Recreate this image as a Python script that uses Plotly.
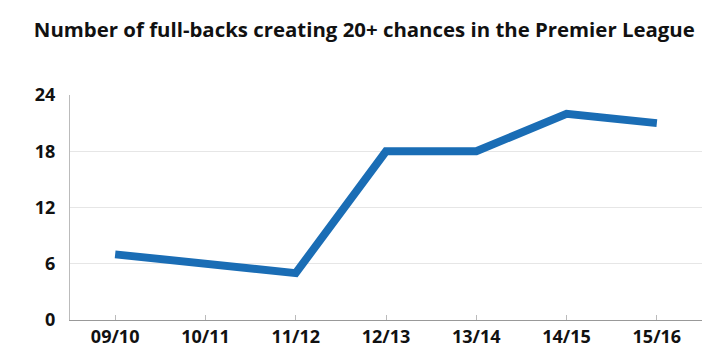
import plotly.graph_objects as go

seasons = ["09/10", "10/11", "11/12", "12/13", "13/14", "14/15", "15/16"]
fullbacks = [7, 6, 5, 18, 18, 22, 21]
y_ticks = [0, 6, 12, 18, 24]

fig = go.Figure()
fig.add_trace(go.Scatter(
    x=list(range(len(seasons))), y=fullbacks, mode="lines",
    line=dict(color="#1a6db5", width=8), hoverinfo="skip"
))

fig.update_layout(
    width=720, height=353,
    margin=dict(l=70, r=18, t=95, b=33),
    paper_bgcolor="white", plot_bgcolor="white",
    showlegend=False,
    title=dict(text="<b>Number of full-backs creating 20+ chances in the Premier League</b>",
               x=0.047, xanchor="left", y=0.915, yanchor="middle",
               font=dict(family="Open Sans", size=20.4, color="#111")),
    font=dict(family="Open Sans", color="#111"),
)
fig.update_xaxes(
    range=[-0.5, 6.5], tickmode="array", tickvals=list(range(len(seasons))),
    ticktext=["<b>%s</b>" % s for s in seasons],
    tickfont=dict(size=18, color="#111"), automargin=False,
    showgrid=False, showline=True, linecolor="#999", linewidth=1,
    ticks="inside", ticklen=5, tickcolor="#bbb", zeroline=False,
)
fig.update_yaxes(
    range=[0, 24], tickmode="array", tickvals=y_ticks,
    ticktext=["<b>%d</b>" % v for v in y_ticks],
    tickfont=dict(size=18, color="#111"), automargin=False,
    showgrid=True, gridcolor="#e6e6e6", gridwidth=1,
    showline=True, linecolor="#bbb", linewidth=1,
    zeroline=False, ticks="", ticklabelstandoff=10,
)

fig.write_html("out.html")
